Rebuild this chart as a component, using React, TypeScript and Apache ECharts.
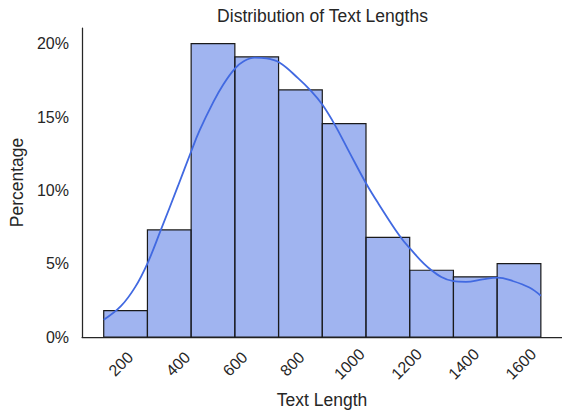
import React, { useEffect, useRef } from "react";
import * as echarts from "echarts";

const binEdges = [140, 293, 446, 599, 752, 905, 1058, 1211, 1364, 1517, 1670];
const binPercents = [1.8, 7.3, 20.0, 19.1, 16.85, 14.55, 6.8, 4.55, 4.1, 5.0];

const kdeX = [140, 200, 250, 294, 340, 400, 445, 476, 523, 558, 599, 630, 668, 710, 756, 820, 867, 905, 948, 1000, 1059, 1105, 1173, 1210, 1286, 1361, 1408, 1466, 1518, 1571, 1630, 1670];
const kdeY = [1.17, 2.1, 3.4, 5.06, 7.3, 10.3, 12.6, 14.1, 16.0, 17.2, 18.3, 18.8, 19.05, 19.0, 18.7, 17.65, 16.75, 15.85, 14.5, 12.59, 10.45, 8.99, 6.97, 6.07, 4.57, 3.82, 3.76, 3.93, 4.05, 3.82, 3.37, 2.81];

const xTickValues = [200, 400, 600, 800, 1000, 1200, 1400, 1600];
const yTickStep = 5;

const FONT = "'Liberation Sans', Arial, Helvetica, sans-serif";
const INK = "#262626";

export default function App() {
  const ref = useRef<HTMLDivElement>(null);
  useEffect(() => {
    document.body.style.margin = "0";
    if (!ref.current) return;
    const chart = echarts.init(ref.current, undefined, { renderer: "svg" });
    const bars = binPercents.map((v, i) => [binEdges[i], binEdges[i + 1], v]);
    const kde = kdeX.map((x, i) => [x, kdeY[i]]);
    chart.setOption({
      animation: false,
      backgroundColor: "#ffffff",
      textStyle: { fontFamily: FONT },
      grid: { left: 82, right: -1, top: 28, bottom: 74, containLabel: false },
      graphic: [
        {
          type: "text",
          x: 322.5,
          y: 7,
          style: {
            text: "Distribution of Text Lengths",
            fontSize: 17.5,
            fontFamily: FONT,
            fill: INK,
            textAlign: "center",
            textVerticalAlign: "top",
          },
        },
      ],
      xAxis: {
        type: "value",
        min: 64,
        max: 1744,
        name: "Text Length",
        nameLocation: "middle",
        nameGap: 54,
        nameTextStyle: { fontSize: 17.5, color: INK, fontFamily: FONT },
        axisLine: { show: true, lineStyle: { color: INK, width: 1.25 } },
        axisTick: { show: false },
        splitLine: { show: false },
        axisLabel: {
          customValues: xTickValues,
          rotate: 45,
          align: "center",
          verticalAlign: "middle",
          margin: 27,
          fontSize: 16,
          color: INK,
          fontFamily: FONT,
          formatter: (v: number) => String(v),
        },
      },
      yAxis: {
        type: "value",
        min: 0,
        max: 21.07,
        interval: yTickStep,
        name: "Percentage",
        nameLocation: "middle",
        nameRotate: 90,
        nameGap: 55,
        nameTextStyle: { fontSize: 17.5, color: INK, fontFamily: FONT },
        axisLine: { show: true, lineStyle: { color: INK, width: 1.25 } },
        axisTick: { show: false },
        splitLine: { show: false },
        axisLabel: {
          margin: 13,
          fontSize: 16,
          color: INK,
          fontFamily: FONT,
          formatter: (v: number) => (Math.abs(v % yTickStep) < 1e-9 ? `${v}%` : ""),
        },
      },
      series: [
        {
          type: "custom",
          z: 2,
          encode: { x: [0, 1], y: 2 },
          data: bars,
          renderItem: (params: any, api: any) => {
            const s = api.value(0);
            const e = api.value(1);
            const v = api.value(2);
            const p0 = api.coord([s, v]);
            const p1 = api.coord([e, 0]);
            return {
              type: "rect",
              shape: { x: p0[0], y: p0[1], width: p1[0] - p0[0], height: p1[1] - p0[1] },
              style: { fill: "rgba(65,105,225,0.5)", stroke: "#1a1a1a", lineWidth: 1.2 },
            };
          },
        },
        {
          type: "line",
          z: 3,
          data: kde,
          smooth: 0.4,
          showSymbol: false,
          symbol: "none",
          lineStyle: { color: "#4169E1", width: 1.8 },
        },
      ],
    });
    return () => chart.dispose();
  }, []);
  return <div ref={ref} style={{ width: 562, height: 414 }} />;
}
